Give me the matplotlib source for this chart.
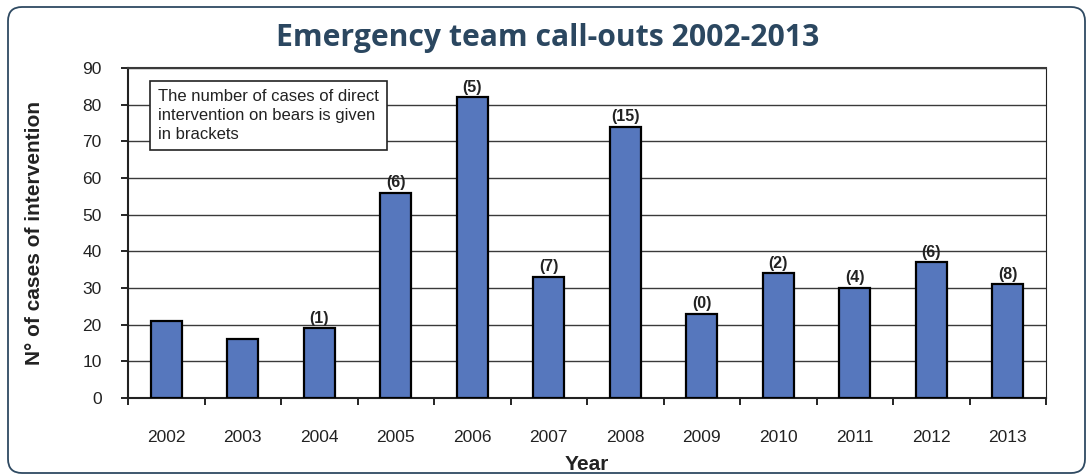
import matplotlib
matplotlib.use("Agg")
import matplotlib.pyplot as plt
from matplotlib.patches import FancyBboxPatch

years = ["2002", "2003", "2004", "2005", "2006", "2007", "2008",
         "2009", "2010", "2011", "2012", "2013"]
callouts = [21, 16, 19, 56, 82, 33, 74, 23, 34, 30, 37, 31]
bear_interventions = ["", "", "(1)", "(6)", "(5)", "(7)", "(15)",
                      "(0)", "(2)", "(4)", "(6)", "(8)"]
y_ticks = [0, 10, 20, 30, 40, 50, 60, 70, 80, 90]

plt.rcParams['font.family'] = ['Liberation Sans', 'DejaVu Sans']

W, H = 1088, 476
fig = plt.figure(figsize=(W / 100, H / 100), dpi=100)
ax = fig.add_axes([128 / W, 1 - 398 / H, (1046 - 128) / W, (398 - 68) / H])

x = list(range(len(years)))
ax.bar(x, callouts, width=0.4, color="#5677bd", edgecolor="black",
       linewidth=1.6, zorder=3)

for xi, v, lab in zip(x, callouts, bear_interventions):
    if lab:
        ax.annotate(lab, (xi, v), xytext=(0, 2), textcoords="offset points",
                    ha="center", va="bottom", fontsize=11.5, fontweight="bold",
                    color="#222222", zorder=4)

ax.set_xlim(-0.5, len(years) - 0.5)
ax.set_ylim(0, 90)
ax.set_yticks(y_ticks)
ax.set_yticklabels([str(t) for t in y_ticks], fontsize=12.5, color="#222222")
ax.yaxis.grid(True, color="#3a3a3a", linewidth=1.0, zorder=0)
ax.set_axisbelow(True)

ax.set_xticks([i - 0.5 for i in range(len(years) + 1)])
ax.set_xticklabels([])
ax.set_xticks(x, minor=True)
ax.set_xticklabels(years, minor=True, fontsize=12.5, color="#222222")
ax.tick_params(axis="x", which="major", direction="out", length=5, width=1.2)
ax.tick_params(axis="x", which="minor", length=0, pad=23)
ax.tick_params(axis="y", direction="out", length=5, width=1.2, pad=14)

for s in ["left", "bottom"]:
    ax.spines[s].set_linewidth(1.5)
    ax.spines[s].set_color("#222222")
ax.spines["top"].set_linewidth(1.5)
ax.spines["top"].set_color("#3a3a3a")
ax.spines["right"].set_linewidth(0.8)
ax.spines["right"].set_color("#222222")

ax.set_xlabel("Year", fontsize=15, fontweight="bold", color="#222222", labelpad=7)
fig.text(35 / W, 1 - 233 / H, "N° of cases of intervention", rotation=90,
         ha="center", va="center", fontsize=15, fontweight="bold", color="#222222")

ax.text(0.0327, 0.935,
        "The number of cases of direct\nintervention on bears is given\nin brackets",
        transform=ax.transAxes, ha="left", va="top", fontsize=12,
        color="#222222", linespacing=1.3, zorder=5,
        bbox=dict(boxstyle="square,pad=0.5", facecolor="white",
                  edgecolor="#222222", linewidth=1.2))

fig.text(548 / W, 1 - 38 / H, "Emergency team call-outs 2002-2013",
         ha="center", va="center", fontsize=21.7, fontweight="bold",
         color="#2b4760", family=["Open Sans", "DejaVu Sans"])

border = FancyBboxPatch((8, 3), 1077, 466,
                        boxstyle="round,pad=0,rounding_size=14",
                        transform=None, facecolor="none",
                        edgecolor="#2f4a62", linewidth=1.3)
fig.patches.append(border)

fig.savefig("out.png", dpi=100)
